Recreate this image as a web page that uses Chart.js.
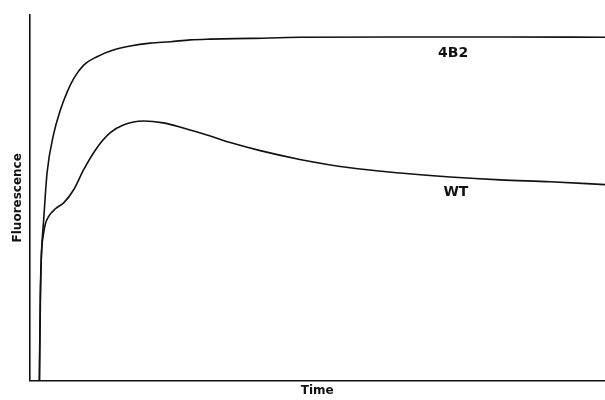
<!DOCTYPE html>
<html>
<head>
<meta charset="utf-8">
<script src="https://cdn.jsdelivr.net/npm/chart.js@4"></script>
<style>
  html, body { margin: 0; padding: 0; background: #fff; }
  canvas { display: block; }
</style>
</head>
<body>
<canvas id="chart" width="605" height="400"></canvas>
<script>
// 시간 (임의 단위), 형광 (임의 단위) - 그림에서 읽은 값
const time4B2 = [1.74, 1.82, 1.91, 2.08, 2.48, 3.07, 4.22, 5.38, 6.55, 7.69, 9.43, 11.75, 14.58, 17.53, 21.0, 24.5, 27.95, 31.4, 38.4, 47.0, 64.4, 81.8, 100];
const fluor4B2 = [0, 13.9, 24.9, 34.4, 44.0, 56.8, 67.5, 74.0, 78.9, 82.6, 86.3, 88.6, 90.4, 91.5, 92.3, 92.7, 93.2, 93.4, 93.6, 93.9, 94.0, 94.0, 93.9];

const timeWT = [1.74, 1.91, 2.08, 2.43, 2.78, 3.35, 4.51, 5.95, 7.69, 9.43, 11.75, 14.06, 16.32, 19.79, 23.26, 26.74, 31.42, 34.9, 40.1, 47.0, 55.7, 64.4, 73.1, 81.8, 90.5, 100];
const fluorWT = [0, 22.1, 33.9, 39.9, 42.9, 44.9, 47.0, 48.6, 52.2, 57.7, 63.7, 67.8, 69.9, 71.0, 70.5, 69.1, 66.9, 65.1, 62.9, 60.5, 58.2, 56.8, 55.7, 54.9, 54.4, 53.6];

const seriesNames = ["4B2", "WT"];

function toPoints(xs, ys) {
  return xs.map((x, i) => ({ x: x, y: ys[i] }));
}

// 곡선 옆에 이름 표시
const curveLabels = {
  id: "curveLabels",
  afterDatasetsDraw(chart) {
    const { ctx, scales } = chart;
    const spots = [[73.6, 89.6], [74.1, 51.4]];
    ctx.save();
    ctx.fillStyle = "#111";
    ctx.font = "bold 14px 'DejaVu Sans'";
    ctx.textAlign = "center";
    ctx.textBaseline = "middle";
    seriesNames.forEach((name, i) => {
      ctx.fillText(name, scales.x.getPixelForValue(spots[i][0]), scales.y.getPixelForValue(spots[i][1]));
    });
    ctx.restore();
  },
};

const ctx = document.getElementById("chart").getContext("2d");

new Chart(ctx, {
  type: "line",
  data: {
    datasets: [
      {
        label: seriesNames[0],
        data: toPoints(time4B2, fluor4B2),
        borderColor: "#111",
        borderWidth: 1.6,
        pointRadius: 0,
        cubicInterpolationMode: "monotone",
      },
      {
        label: seriesNames[1],
        data: toPoints(timeWT, fluorWT),
        borderColor: "#111",
        borderWidth: 1.6,
        pointRadius: 0,
        cubicInterpolationMode: "monotone",
      },
    ],
  },
  options: {
    responsive: false,
    animation: false,
    layout: { padding: { left: 4, top: 15, right: 0, bottom: 0 } },
    plugins: {
      legend: { display: false },
      tooltip: { enabled: false },
    },
    scales: {
      x: {
        type: "linear",
        min: 0,
        max: 100,
        ticks: { display: false },
        grid: { display: false, drawTicks: false },
        border: { display: true, color: "#111", width: 1.6 },
        title: {
          display: true,
          text: "Time",
          color: "#111",
          font: { family: "DejaVu Sans", size: 12, weight: "bold" },
          padding: { top: 3, bottom: 2 },
        },
      },
      y: {
        min: 0,
        max: 100,
        ticks: { display: false },
        grid: { display: false, drawTicks: false },
        border: { display: true, color: "#111", width: 1.6 },
        title: {
          display: true,
          text: "Fluorescence",
          color: "#111",
          font: { family: "DejaVu Sans", size: 12, weight: "bold" },
          padding: { top: 7, bottom: 4 },
        },
      },
    },
  },
  plugins: [curveLabels],
});
</script>
</body>
</html>
